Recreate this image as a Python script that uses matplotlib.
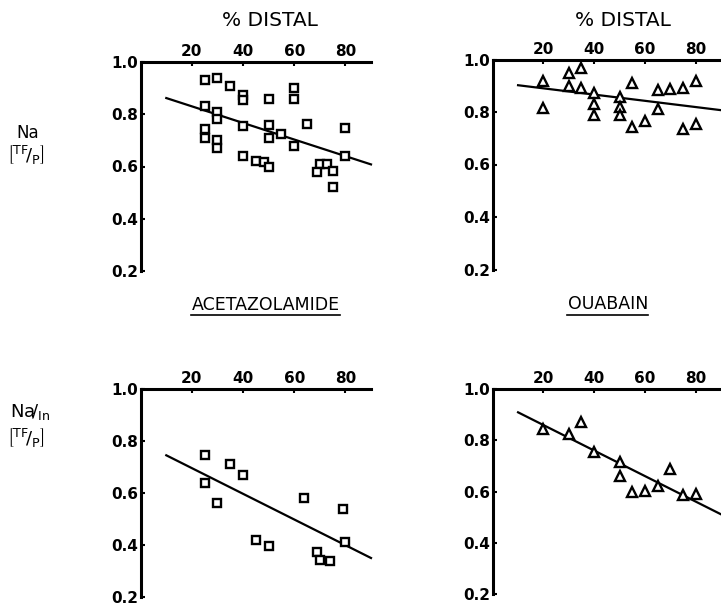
import matplotlib.pyplot as plt
import numpy as np

plt.rcParams['font.family'] = ['DejaVu Sans']
plt.rcParams['mathtext.fontset'] = 'dejavusans'

# acetazolamide, Na (TF/P) vs % distal
aceta_na_x = [25, 30, 35, 40, 40, 50, 60, 60, 25, 30, 30, 25, 25, 30, 30, 40, 40,
              45, 48, 50, 50, 50, 55, 60, 65, 70, 69, 73, 75, 75, 80, 80]
aceta_na_y = [0.93, 0.94, 0.91, 0.875, 0.855, 0.86, 0.90, 0.86, 0.83, 0.81, 0.78, 0.745, 0.71,
              0.70, 0.67, 0.755, 0.64, 0.62, 0.617, 0.598, 0.758, 0.71, 0.723, 0.677, 0.764,
              0.611, 0.578, 0.608, 0.583, 0.52, 0.747, 0.64]
aceta_na_fit_x = [10, 90]
aceta_na_fit_y = [0.862, 0.608]

# ouabain, Na (TF/P)
ouab_na_x = [20, 20, 30, 35, 30, 35, 40, 40, 40, 50, 50, 50, 55, 55, 60, 65, 65, 70, 75, 75, 80, 80]
ouab_na_y = [0.92, 0.815, 0.95, 0.968, 0.898, 0.893, 0.874, 0.83, 0.787, 0.858, 0.82, 0.79,
             0.909, 0.742, 0.766, 0.883, 0.81, 0.888, 0.892, 0.737, 0.92, 0.754]
ouab_na_fit_x = [10, 90]
ouab_na_fit_y = [0.902, 0.807]

# acetazolamide, Na/In (TF/P)
aceta_in_x = [25, 25, 30, 35, 40, 45, 50, 64, 69, 70, 74, 79, 80]
aceta_in_y = [0.745, 0.64, 0.563, 0.71, 0.671, 0.419, 0.395, 0.582, 0.372, 0.343, 0.338, 0.538, 0.41]
aceta_in_fit_x = [10, 90]
aceta_in_fit_y = [0.745, 0.35]

# ouabain, Na/In (TF/P)
ouab_in_x = [20, 30, 35, 40, 50, 50, 55, 60, 65, 70, 75, 80]
ouab_in_y = [0.843, 0.824, 0.873, 0.755, 0.716, 0.66, 0.60, 0.603, 0.623, 0.688, 0.586, 0.59]
ouab_in_fit_x = [10, 90]
ouab_in_fit_y = [0.909, 0.511]

x_ticks = [20, 40, 60, 80]
y_ticks = [0.2, 0.4, 0.6, 0.8, 1.0]

W, H = 721, 605
fig = plt.figure(figsize=(W / 100, H / 100), dpi=100)


def make_axes(left, top, right, bottom):
    ax = fig.add_axes([left / W, 1 - bottom / H, (right - left) / W, (bottom - top) / H])
    ax.set_xlim(0, 90)
    ax.set_ylim(0.2, 1.0)
    for s in ['right', 'bottom']:
        ax.spines[s].set_visible(False)
    for s in ['left', 'top']:
        ax.spines[s].set_linewidth(2.2)
    ax.xaxis.tick_top()
    ax.set_xticks(x_ticks)
    ax.set_yticks(y_ticks)
    ax.set_yticklabels(['0.2', '0.4', '0.6', '0.8', '1.0'])
    ax.tick_params(direction='in', length=3, width=1.5, labelsize=11, pad=2)
    for lab in ax.get_xticklabels() + ax.get_yticklabels():
        lab.set_fontweight('bold')
    ax.patch.set_alpha(0)
    return ax


panels = [
    ((140.7, 62, 371, 271), aceta_na_x, aceta_na_y, aceta_na_fit_x, aceta_na_fit_y, 's'),
    ((492.7, 59.5, 721, 269.5), ouab_na_x, ouab_na_y, ouab_na_fit_x, ouab_na_fit_y, '^'),
    ((140.7, 389, 371, 597), aceta_in_x, aceta_in_y, aceta_in_fit_x, aceta_in_fit_y, 's'),
    ((492.7, 389, 721, 594), ouab_in_x, ouab_in_y, ouab_in_fit_x, ouab_in_fit_y, '^'),
]

for box, xs, ys, fx, fy, mk in panels:
    ax = make_axes(*box)
    ax.plot(fx, fy, color='black', lw=1.6, clip_on=False)
    ax.plot(xs, ys, linestyle='none', marker=mk, markersize=6.5 if mk == '^' else 5.5,
            markerfacecolor='white', markeredgecolor='black', markeredgewidth=1.7, clip_on=False)

# headers
fig.text(270 / W, 1 - 20 / H, '% DISTAL', ha='center', va='center', fontsize=14.5)
fig.text(623 / W, 1 - 20 / H, '% DISTAL', ha='center', va='center', fontsize=14.5)
fig.text(266 / W, 1 - 305 / H, 'ACETAZOLAMIDE', ha='center', va='center', fontsize=12.5)
fig.text(608 / W, 1 - 304 / H, 'OUABAIN', ha='center', va='center', fontsize=12.5)
fig.add_artist(plt.Line2D([191 / W, 340 / W], [1 - 315 / H, 1 - 315 / H], color='black', lw=1.2))
fig.add_artist(plt.Line2D([567 / W, 648 / W], [1 - 315 / H, 1 - 315 / H], color='black', lw=1.2))

# row labels
fig.text(28 / W, 1 - 133 / H, 'Na', ha='center', va='center', fontsize=12)
fig.text(26 / W, 1 - 155 / H, r'$\left[{}^{\mathrm{TF}}\!/_{\mathrm{P}}\right]$', ha='center', va='center', fontsize=13)
fig.text(30 / W, 1 - 412 / H, r'$\mathrm{Na}\!/_{\mathrm{In}}$', ha='center', va='center', fontsize=13)
fig.text(26 / W, 1 - 438 / H, r'$\left[{}^{\mathrm{TF}}\!/_{\mathrm{P}}\right]$', ha='center', va='center', fontsize=13)

fig.savefig('out.png', dpi=100)
